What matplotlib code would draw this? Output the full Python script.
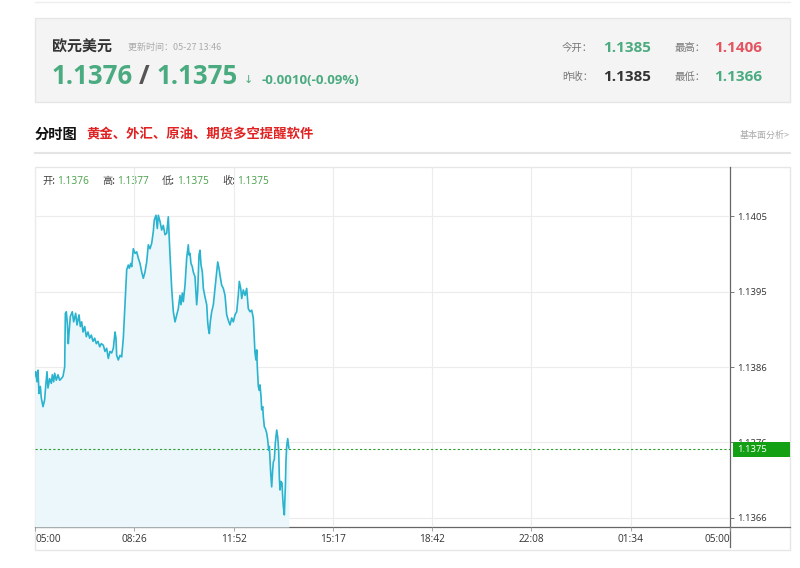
import matplotlib
matplotlib.use("Agg")
import matplotlib.pyplot as plt
from matplotlib.patches import Rectangle
from matplotlib.transforms import blended_transform_factory

# ---------------- data ----------------
# minutes after 05:00, price
minutes = [0, 1.4, 4.1, 6.2, 8.3, 11.1, 13.1, 16.6, 20.0, 22.1, 24.9, 26.9, 30.4, 33.8, 35.9,
           38.7, 40.7, 44.2, 47.7, 51.1, 54.5, 58.0, 61.5, 62.9, 64.9, 67.0, 69.0, 70.4, 73.2,
           77.3, 80.1, 84.3, 87.0, 91.2, 93.9, 96.7, 99.5, 103.0, 106.3, 109.8, 113.3, 116.7,
           120.2, 123.7, 127.0, 130.5, 134.1, 137.4,
           141.6, 145.0, 148.5, 151.9, 155.4, 158.9, 162.3, 165.8, 167.8, 169.2, 172.6, 176.1,
           179.6, 183.0, 186.5, 190.0, 193.3, 195.4, 198.3, 200.4, 203.7, 207.2, 210.7, 214.0,
           217.6, 221.1, 224.4, 227.9, 231.4, 234.8, 238.3, 241.8, 245.1, 247.2, 250.7, 253.4,
           255.5, 259.0, 262.5, 265.8, 269.4, 272.9, 276.2, 279.7, 283.2, 286.6, 290.1,
           293.6, 296.9, 300.4, 302.5, 305.2, 307.3, 310.8, 314.3, 317.6, 319.1, 321.2, 323.2,
           325.9, 328.0, 331.5, 335.0, 337.1, 339.8, 341.9, 344.0, 346.7, 348.8, 352.2, 355.8,
           357.8, 359.1, 361.2, 363.2, 366.1, 369.5, 373.0, 376.5, 378.6, 381.2, 383.3, 386.8,
           390.2, 393.7, 397.2, 400.5, 404.0, 407.6, 410.9, 414.4, 417.9, 421.2, 423.3, 426.2,
           428.3, 431.6, 435.1, 438.6, 441.9, 445.5, 449.0,
           452.3, 453.8, 455.8, 457.9, 459.4, 460.6, 462.7, 464.8, 466.2, 468.3, 469.7, 471.8,
           473.1, 475.2, 477.2, 480.1, 482.2, 484.2, 485.6, 487.0, 488.4, 490.4, 492.5, 493.8,
           495.8, 497.9, 500.8, 502.9, 504.9, 506.2, 507.6, 509.7, 511.8, 513.2, 514.5, 516.6,
           518.7, 520.1, 521.5, 523.6, 525.7, 526.0]
prices = [1.13845, 1.13850, 1.13837, 1.13852, 1.13822, 1.13831, 1.13816, 1.13805, 1.13814, 1.13831,
          1.13850, 1.13829, 1.13841, 1.13835, 1.13846, 1.13837, 1.13848, 1.13839, 1.13846, 1.13839,
          1.13841, 1.13844, 1.13856, 1.13925, 1.13927, 1.13912, 1.13886, 1.13899, 1.13921, 1.13927,
          1.13914, 1.13925, 1.13910, 1.13923, 1.13908, 1.13914, 1.13901, 1.13908, 1.13895, 1.13901,
          1.13893, 1.13897, 1.13889, 1.13893, 1.13886, 1.13889, 1.13882, 1.13886,
          1.13884, 1.13876, 1.13880, 1.13867, 1.13876, 1.13874, 1.13880, 1.13901, 1.13893, 1.13871,
          1.13865, 1.13871, 1.13869, 1.13893, 1.13936, 1.13981, 1.13987, 1.13983, 1.13989, 1.13985,
          1.14008, 1.14002, 1.14004, 1.13996, 1.13989, 1.13978, 1.13970, 1.13978, 1.13991, 1.14013,
          1.14008, 1.14015, 1.14030, 1.14045, 1.14051, 1.14034, 1.14051, 1.14043, 1.14032, 1.14038,
          1.14026, 1.14028, 1.14049, 1.14000, 1.13957, 1.13927, 1.13914,
          1.13923, 1.13931, 1.13948, 1.13936, 1.13951, 1.13940, 1.13961, 1.13996, 1.14013, 1.14000,
          1.14002, 1.13989, 1.13985, 1.13978, 1.13972, 1.13936, 1.13953, 1.14000, 1.14006, 1.13987,
          1.13978, 1.13957, 1.13946, 1.13936, 1.13914, 1.13906, 1.13899, 1.13914, 1.13927, 1.13936,
          1.13957, 1.13978, 1.13991, 1.13983, 1.13974, 1.13961, 1.13957, 1.13948, 1.13923, 1.13916,
          1.13910, 1.13919, 1.13914, 1.13923, 1.13927, 1.13948, 1.13966, 1.13957, 1.13944, 1.13955,
          1.13948, 1.13957, 1.13931, 1.13927, 1.13929,
          1.13919, 1.13899, 1.13874, 1.13865, 1.13878, 1.13856, 1.13831, 1.13826, 1.13833, 1.13818,
          1.13801, 1.13805, 1.13792, 1.13779, 1.13777, 1.13771, 1.13762, 1.13749, 1.13754, 1.13737,
          1.13719, 1.13702, 1.13724, 1.13734, 1.13737, 1.13758, 1.13775, 1.13766, 1.13749, 1.13715,
          1.13698, 1.13709, 1.13707, 1.13689, 1.13677, 1.13666, 1.13702, 1.13737, 1.13754, 1.13764,
          1.13754, 1.13752]

xtick_minutes = [0, 205.7, 411.4, 617.1, 822.9, 1028.6, 1234.3, 1440]
xtick_labels = ["05:00", "08:26", "11:52", "15:17", "18:42", "22:08", "01:34", "05:00"]
ytick_values = [1.13662, 1.13759, 1.13856, 1.13953, 1.14050]
ytick_labels = ["1.1366", "1.1376", "1.1386", "1.1395", "1.1405"]
last_price = 1.1375
last_label = "1.1375"

title_name = "欧元美元"
update_text = "更新时间：05-27 13:46"
bid, ask = "1.1376", "1.1375"
change_text = "-0.0010(-0.09%)"
open_today, high_day = "1.1385", "1.1406"
prev_close, low_day = "1.1385", "1.1366"
ohlc_names = ["开:", "高:", "低:", "收:"]
ohlc_values = ["1.1376", "1.1377", "1.1375", "1.1375"]

# ---------------- style ----------------
GREEN = "#4bab80"
RED = "#e4535f"
LINE = "#2ab3cf"
FILL = "#ebf7fb"
CJK = ["Noto Sans CJK SC", "DejaVu Sans"]
NUM = ["Open Sans", "Noto Sans CJK SC", "DejaVu Sans"]
plt.rcParams["font.family"] = CJK

W, H = 800, 568
fig = plt.figure(figsize=(W / 100, H / 100), dpi=100)
fig.patch.set_facecolor("white")

# pixel overlay
ov = fig.add_axes([0, 0, 1, 1])
ov.set_xlim(0, W)
ov.set_ylim(H, 0)
ov.axis("off")

def T(x, y, s, size, color, weight="normal", family=CJK, ha="left", va="center", **kw):
    ov.text(x, y, s, fontsize=size, color=color, fontweight=weight, family=family,
            ha=ha, va=va, **kw)

# top faint line
ov.plot([35, 790], [2, 2], color="#eeeeee", lw=1)
# header box
ov.add_patch(Rectangle((35, 18), 755, 84, facecolor="#f4f4f4", edgecolor="#e6e6e6", lw=1))
T(52, 47, title_name, 10.8, "#333333", weight="bold")
T(128, 47, update_text, 6.5, "#aaaaaa")
T(52, 77, bid, 18.5, GREEN, weight="bold", family=NUM)
T(139, 77, "/", 18.5, "#555555", weight="bold", family=NUM)
T(157, 77, ask, 18.5, GREEN, weight="bold", family=NUM)
T(244, 80, "↓", 8, GREEN, family=["DejaVu Sans"])
T(262, 80, change_text, 9.5, GREEN, weight="bold", family=NUM)

T(562, 48, "今开：", 7.5, "#777777")
T(603, 48, open_today, 11, GREEN, weight="bold", family=NUM)
T(675, 48, "最高：", 7.5, "#777777")
T(714, 48, high_day, 11, RED, weight="bold", family=NUM)
T(562, 77, "昨收：", 7.5, "#777777")
T(603, 77, prev_close, 11, "#333333", weight="bold", family=NUM)
T(675, 77, "最低：", 7.5, "#777777")
T(714, 77, low_day, 11, GREEN, weight="bold", family=NUM)

# section title
T(35, 135, "分时图", 10.3, "#111111", weight="bold")
T(86, 135, "黄金、外汇、原油、期货多空提醒软件", 9.6, "#e02222", weight="bold")
T(790, 135, "基本面分析>", 6.5, "#aaaaaa", ha="right")
ov.plot([35, 790], [153, 153], color="#e4e4e4", lw=1.5)

# chart box
ov.add_patch(Rectangle((35, 167), 755, 383, facecolor="none", edgecolor="#e6e6e6", lw=1))
ov.plot([35, 790], [527, 527], color="#666666", lw=0.9)
ov.plot([730, 730], [167, 547], color="#666666", lw=0.9)

# OHLC info
xs = [42, 102, 162, 222]
for x, n, v in zip(xs, ohlc_names, ohlc_values):
    T(x, 181, n, 7.3, "#444444")
    T(x + 15, 181, v, 7.3, "#49a049", family=NUM)

# ---------------- chart axes ----------------
ax = fig.add_axes([35 / W, 1 - 527 / H, 695 / W, 360 / H])
ax.patch.set_alpha(0)
ymin, ymax = 1.136504, 1.14113
ax.set_xlim(0, 1440)
ax.set_ylim(ymin, ymax)
for s in ax.spines.values():
    s.set_visible(False)

ax.fill_between(minutes, prices, ymin, color=FILL, lw=0, zorder=1)
ax.plot(minutes, prices, color=LINE, lw=1.2, zorder=3)
ax.axhline(last_price, color="#2e9e2e", lw=0.8, ls=(0, (2, 2)), zorder=2)

ax.set_xticks(xtick_minutes)
ax.set_xticklabels(xtick_labels)
ax.yaxis.tick_right()
ax.set_yticks(ytick_values)
ax.set_yticklabels(ytick_labels)
ax.tick_params(axis="y", direction="out", length=3, width=0.6, color="#666666",
               labelsize=6.8, labelcolor="#333333", pad=2)
ax.tick_params(axis="x", direction="out", length=3, width=0.6, color="#999999",
               labelsize=7.3, labelcolor="#333333", pad=2)
for lab in ax.get_xticklabels() + ax.get_yticklabels():
    lab.set_family(NUM)
xl = ax.get_xticklabels()
xl[0].set_ha("left")
xl[-1].set_ha("right")
ax.grid(True, color="#ececec", lw=0.8, zorder=0)
ax.set_axisbelow(True)

# last price tag
bt = blended_transform_factory(ax.transAxes, ax.transData)
tag_h = 15 / 360 * (ymax - ymin)
ax.add_patch(Rectangle((1.004, last_price - tag_h / 2), 57 / 695, tag_h, transform=bt,
                       facecolor="#14a014", edgecolor="none", clip_on=False, zorder=10))
ax.text(1.010, last_price, last_label, transform=bt, fontsize=6.8, color="white",
        family=NUM, ha="left", va="center", zorder=11, clip_on=False)

fig.savefig("out.png", dpi=100, facecolor="white")
